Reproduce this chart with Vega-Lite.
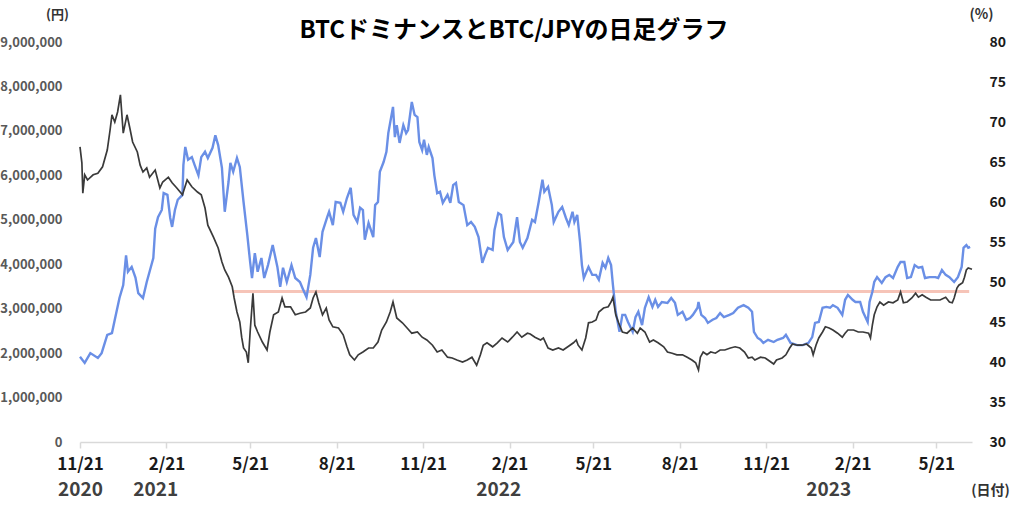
{
"$schema": "https://vega.github.io/schema/vega-lite/v6.json",
"width": 892, "height": 400,
"autosize": {"type": "none"},
"padding": {"left": 80, "top": 42, "right": 52, "bottom": 65},
"background": "white",
"config": {"view": {"stroke": null}, "font": "Noto Sans CJK JP", "axis": {"grid": false}},
"title": {"text": "BTCドミナンスとBTC/JPYの日足グラフ", "fontSize": 24, "fontWeight": "bold", "color": "#000000", "anchor": "middle", "dx": -12, "dy": 39, "offset": 3, "font": "Noto Sans CJK JP"},
"datasets": {
"ref": [{"start": "2021-05-03", "end": "2023-06-25", "level": 48.8}],
"jpy": [
{"date":"2020-11-21","price":1920000},{"date":"2020-11-26","price":1780000},{"date":"2020-12-02","price":2000000},{"date":"2020-12-10","price":1890000},{"date":"2020-12-14","price":2000000},{"date":"2020-12-20","price":2410000},{"date":"2020-12-25","price":2450000},{"date":"2020-12-28","price":2750000},{"date":"2021-01-02","price":3240000},{"date":"2021-01-06","price":3530000},{"date":"2021-01-09","price":4200000},{"date":"2021-01-11","price":3830000},{"date":"2021-01-15","price":3940000},{"date":"2021-01-19","price":3700000},{"date":"2021-01-22","price":3350000},{"date":"2021-01-27","price":3240000},{"date":"2021-01-31","price":3600000},{"date":"2021-02-03","price":3830000},{"date":"2021-02-07","price":4140000},{"date":"2021-02-09","price":4800000},{"date":"2021-02-12","price":5060000},{"date":"2021-02-16","price":5220000},{"date":"2021-02-18","price":5600000},{"date":"2021-02-22","price":5560000},{"date":"2021-02-25","price":5040000},{"date":"2021-02-27","price":4840000},{"date":"2021-03-02","price":5220000},{"date":"2021-03-05","price":5450000},{"date":"2021-03-10","price":5560000},{"date":"2021-03-11","price":6230000},{"date":"2021-03-13","price":6640000},{"date":"2021-03-16","price":6350000},{"date":"2021-03-20","price":6410000},{"date":"2021-03-23","price":6230000},{"date":"2021-03-27","price":6000000},{"date":"2021-03-30","price":6410000},{"date":"2021-04-03","price":6530000},{"date":"2021-04-06","price":6390000},{"date":"2021-04-11","price":6620000},{"date":"2021-04-14","price":6900000},{"date":"2021-04-17","price":6680000},{"date":"2021-04-21","price":6170000},{"date":"2021-04-24","price":5180000},{"date":"2021-04-28","price":5850000},{"date":"2021-04-30","price":6280000},{"date":"2021-05-03","price":6080000},{"date":"2021-05-07","price":6390000},{"date":"2021-05-10","price":6190000},{"date":"2021-05-14","price":5400000},{"date":"2021-05-18","price":4660000},{"date":"2021-05-21","price":4050000},{"date":"2021-05-23","price":3690000},{"date":"2021-05-26","price":4250000},{"date":"2021-05-29","price":3830000},{"date":"2021-06-02","price":4140000},{"date":"2021-06-05","price":3690000},{"date":"2021-06-09","price":3980000},{"date":"2021-06-14","price":4430000},{"date":"2021-06-19","price":3940000},{"date":"2021-06-22","price":3490000},{"date":"2021-06-25","price":3920000},{"date":"2021-06-29","price":3600000},{"date":"2021-07-04","price":3980000},{"date":"2021-07-08","price":3690000},{"date":"2021-07-13","price":3600000},{"date":"2021-07-16","price":3450000},{"date":"2021-07-20","price":3260000},{"date":"2021-07-24","price":3760000},{"date":"2021-07-27","price":4370000},{"date":"2021-07-30","price":4590000},{"date":"2021-08-03","price":4160000},{"date":"2021-08-06","price":4730000},{"date":"2021-08-11","price":5060000},{"date":"2021-08-13","price":5180000},{"date":"2021-08-17","price":4880000},{"date":"2021-08-20","price":5400000},{"date":"2021-08-25","price":5380000},{"date":"2021-08-28","price":5180000},{"date":"2021-09-01","price":5490000},{"date":"2021-09-05","price":5720000},{"date":"2021-09-08","price":5110000},{"date":"2021-09-12","price":4950000},{"date":"2021-09-15","price":5270000},{"date":"2021-09-18","price":5220000},{"date":"2021-09-20","price":4550000},{"date":"2021-09-24","price":4930000},{"date":"2021-09-29","price":4610000},{"date":"2021-10-01","price":5330000},{"date":"2021-10-04","price":5400000},{"date":"2021-10-06","price":6080000},{"date":"2021-10-10","price":6300000},{"date":"2021-10-13","price":6530000},{"date":"2021-10-15","price":6950000},{"date":"2021-10-20","price":7540000},{"date":"2021-10-22","price":6860000},{"date":"2021-10-24","price":7130000},{"date":"2021-10-27","price":6730000},{"date":"2021-10-31","price":7130000},{"date":"2021-11-03","price":6950000},{"date":"2021-11-05","price":7020000},{"date":"2021-11-09","price":7650000},{"date":"2021-11-12","price":7360000},{"date":"2021-11-15","price":7310000},{"date":"2021-11-17","price":6750000},{"date":"2021-11-20","price":6570000},{"date":"2021-11-22","price":6800000},{"date":"2021-11-25","price":6460000},{"date":"2021-11-27","price":6640000},{"date":"2021-12-01","price":6390000},{"date":"2021-12-03","price":6000000},{"date":"2021-12-06","price":5600000},{"date":"2021-12-09","price":5630000},{"date":"2021-12-12","price":5380000},{"date":"2021-12-17","price":5560000},{"date":"2021-12-20","price":5380000},{"date":"2021-12-23","price":5780000},{"date":"2021-12-26","price":5830000},{"date":"2021-12-29","price":5400000},{"date":"2022-01-03","price":5330000},{"date":"2022-01-07","price":4880000},{"date":"2022-01-11","price":4950000},{"date":"2022-01-15","price":4840000},{"date":"2022-01-19","price":4610000},{"date":"2022-01-23","price":4030000},{"date":"2022-01-26","price":4210000},{"date":"2022-01-29","price":4370000},{"date":"2022-02-03","price":4320000},{"date":"2022-02-05","price":4770000},{"date":"2022-02-09","price":5150000},{"date":"2022-02-12","price":5110000},{"date":"2022-02-15","price":4610000},{"date":"2022-02-19","price":4320000},{"date":"2022-02-25","price":4500000},{"date":"2022-03-01","price":5060000},{"date":"2022-03-04","price":4500000},{"date":"2022-03-07","price":4370000},{"date":"2022-03-12","price":4590000},{"date":"2022-03-17","price":5000000},{"date":"2022-03-20","price":4950000},{"date":"2022-03-24","price":5400000},{"date":"2022-03-28","price":5900000},{"date":"2022-03-30","price":5630000},{"date":"2022-04-03","price":5740000},{"date":"2022-04-07","price":5330000},{"date":"2022-04-09","price":4950000},{"date":"2022-04-14","price":5180000},{"date":"2022-04-18","price":5290000},{"date":"2022-04-22","price":5040000},{"date":"2022-04-25","price":4880000},{"date":"2022-04-29","price":5180000},{"date":"2022-05-01","price":4950000},{"date":"2022-05-04","price":5110000},{"date":"2022-05-07","price":4500000},{"date":"2022-05-09","price":3980000},{"date":"2022-05-11","price":3690000},{"date":"2022-05-16","price":3940000},{"date":"2022-05-20","price":3760000},{"date":"2022-05-24","price":3760000},{"date":"2022-05-27","price":3650000},{"date":"2022-05-31","price":4030000},{"date":"2022-06-03","price":3920000},{"date":"2022-06-06","price":4140000},{"date":"2022-06-09","price":3980000},{"date":"2022-06-11","price":3530000},{"date":"2022-06-14","price":2930000},{"date":"2022-06-18","price":2480000},{"date":"2022-06-21","price":2860000},{"date":"2022-06-24","price":2860000},{"date":"2022-06-27","price":2700000},{"date":"2022-07-02","price":2480000},{"date":"2022-07-05","price":2810000},{"date":"2022-07-08","price":2930000},{"date":"2022-07-12","price":2630000},{"date":"2022-07-15","price":3020000},{"date":"2022-07-19","price":3260000},{"date":"2022-07-23","price":3040000},{"date":"2022-07-26","price":3200000},{"date":"2022-07-29","price":3040000},{"date":"2022-08-02","price":3150000},{"date":"2022-08-08","price":3130000},{"date":"2022-08-12","price":3240000},{"date":"2022-08-16","price":3130000},{"date":"2022-08-19","price":2860000},{"date":"2022-08-24","price":2930000},{"date":"2022-08-28","price":2750000},{"date":"2022-09-01","price":2790000},{"date":"2022-09-04","price":2860000},{"date":"2022-09-09","price":3020000},{"date":"2022-09-10","price":3150000},{"date":"2022-09-13","price":2860000},{"date":"2022-09-17","price":2790000},{"date":"2022-09-20","price":2680000},{"date":"2022-09-25","price":2750000},{"date":"2022-09-29","price":2790000},{"date":"2022-10-03","price":2900000},{"date":"2022-10-07","price":2810000},{"date":"2022-10-13","price":2860000},{"date":"2022-10-17","price":2900000},{"date":"2022-10-22","price":3020000},{"date":"2022-10-28","price":3080000},{"date":"2022-11-02","price":3020000},{"date":"2022-11-06","price":2930000},{"date":"2022-11-08","price":2480000},{"date":"2022-11-12","price":2340000},{"date":"2022-11-15","price":2300000},{"date":"2022-11-18","price":2230000},{"date":"2022-11-23","price":2300000},{"date":"2022-11-29","price":2250000},{"date":"2022-12-03","price":2300000},{"date":"2022-12-09","price":2340000},{"date":"2022-12-12","price":2410000},{"date":"2022-12-17","price":2230000},{"date":"2022-12-24","price":2180000},{"date":"2022-12-30","price":2180000},{"date":"2023-01-05","price":2230000},{"date":"2023-01-09","price":2360000},{"date":"2023-01-12","price":2680000},{"date":"2023-01-16","price":2700000},{"date":"2023-01-20","price":3020000},{"date":"2023-01-24","price":3040000},{"date":"2023-01-28","price":3020000},{"date":"2023-01-31","price":3080000},{"date":"2023-02-05","price":3020000},{"date":"2023-02-10","price":2860000},{"date":"2023-02-13","price":3200000},{"date":"2023-02-16","price":3310000},{"date":"2023-02-21","price":3200000},{"date":"2023-02-24","price":3150000},{"date":"2023-03-01","price":3150000},{"date":"2023-03-04","price":2930000},{"date":"2023-03-09","price":2700000},{"date":"2023-03-11","price":3150000},{"date":"2023-03-14","price":3380000},{"date":"2023-03-16","price":3600000},{"date":"2023-03-19","price":3710000},{"date":"2023-03-24","price":3580000},{"date":"2023-03-28","price":3710000},{"date":"2023-04-01","price":3760000},{"date":"2023-04-05","price":3690000},{"date":"2023-04-10","price":3940000},{"date":"2023-04-13","price":4050000},{"date":"2023-04-17","price":4050000},{"date":"2023-04-20","price":3690000},{"date":"2023-04-24","price":3710000},{"date":"2023-04-28","price":3980000},{"date":"2023-05-02","price":3920000},{"date":"2023-05-06","price":3940000},{"date":"2023-05-09","price":3690000},{"date":"2023-05-14","price":3710000},{"date":"2023-05-20","price":3710000},{"date":"2023-05-23","price":3690000},{"date":"2023-05-27","price":3870000},{"date":"2023-05-31","price":3760000},{"date":"2023-06-04","price":3710000},{"date":"2023-06-09","price":3600000},{"date":"2023-06-13","price":3710000},{"date":"2023-06-17","price":3940000},{"date":"2023-06-19","price":4370000},{"date":"2023-06-22","price":4430000},{"date":"2023-06-24","price":4370000},{"date":"2023-06-26","price":4390000}
],
"dom": [
{"date":"2020-11-21","dominance":66.9},{"date":"2020-11-23","dominance":64.9},{"date":"2020-11-24","dominance":61.1},{"date":"2020-11-26","dominance":63.4},{"date":"2020-11-29","dominance":62.75},{"date":"2020-12-05","dominance":63.4},{"date":"2020-12-10","dominance":63.6},{"date":"2020-12-15","dominance":64.4},{"date":"2020-12-20","dominance":66.5},{"date":"2020-12-23","dominance":69.0},{"date":"2020-12-25","dominance":70.9},{"date":"2020-12-28","dominance":70.0},{"date":"2020-12-31","dominance":71.25},{"date":"2021-01-03","dominance":73.4},{"date":"2021-01-06","dominance":68.6},{"date":"2021-01-10","dominance":70.9},{"date":"2021-01-13","dominance":69.25},{"date":"2021-01-16","dominance":67.5},{"date":"2021-01-21","dominance":66.25},{"date":"2021-01-24","dominance":64.6},{"date":"2021-01-27","dominance":63.75},{"date":"2021-01-31","dominance":64.25},{"date":"2021-02-03","dominance":63.1},{"date":"2021-02-09","dominance":64.0},{"date":"2021-02-14","dominance":61.75},{"date":"2021-02-17","dominance":62.5},{"date":"2021-02-23","dominance":63.1},{"date":"2021-02-27","dominance":62.4},{"date":"2021-03-04","dominance":61.75},{"date":"2021-03-10","dominance":60.9},{"date":"2021-03-15","dominance":62.75},{"date":"2021-03-20","dominance":61.9},{"date":"2021-03-26","dominance":61.25},{"date":"2021-03-30","dominance":60.9},{"date":"2021-04-03","dominance":59.25},{"date":"2021-04-06","dominance":57.1},{"date":"2021-04-12","dominance":55.6},{"date":"2021-04-17","dominance":54.25},{"date":"2021-04-21","dominance":52.5},{"date":"2021-04-24","dominance":51.5},{"date":"2021-04-28","dominance":50.6},{"date":"2021-05-02","dominance":49.4},{"date":"2021-05-04","dominance":48.0},{"date":"2021-05-07","dominance":46.25},{"date":"2021-05-10","dominance":45.0},{"date":"2021-05-12","dominance":43.1},{"date":"2021-05-14","dominance":41.75},{"date":"2021-05-17","dominance":41.25},{"date":"2021-05-19","dominance":39.9},{"date":"2021-05-21","dominance":43.75},{"date":"2021-05-24","dominance":48.6},{"date":"2021-05-26","dominance":44.6},{"date":"2021-05-29","dominance":43.75},{"date":"2021-06-03","dominance":42.5},{"date":"2021-06-08","dominance":41.5},{"date":"2021-06-11","dominance":43.75},{"date":"2021-06-15","dominance":45.9},{"date":"2021-06-20","dominance":46.25},{"date":"2021-06-24","dominance":48.0},{"date":"2021-06-27","dominance":46.9},{"date":"2021-07-03","dominance":46.9},{"date":"2021-07-08","dominance":45.9},{"date":"2021-07-13","dominance":46.1},{"date":"2021-07-19","dominance":46.25},{"date":"2021-07-24","dominance":46.75},{"date":"2021-07-27","dominance":48.0},{"date":"2021-07-30","dominance":48.75},{"date":"2021-08-02","dominance":47.4},{"date":"2021-08-06","dominance":45.9},{"date":"2021-08-10","dominance":46.75},{"date":"2021-08-13","dominance":45.25},{"date":"2021-08-17","dominance":44.4},{"date":"2021-08-23","dominance":44.25},{"date":"2021-08-28","dominance":43.4},{"date":"2021-09-01","dominance":41.9},{"date":"2021-09-04","dominance":40.9},{"date":"2021-09-09","dominance":40.25},{"date":"2021-09-13","dominance":40.9},{"date":"2021-09-18","dominance":41.25},{"date":"2021-09-24","dominance":41.75},{"date":"2021-09-29","dominance":41.75},{"date":"2021-10-04","dominance":42.5},{"date":"2021-10-08","dominance":44.0},{"date":"2021-10-13","dominance":45.0},{"date":"2021-10-17","dominance":46.25},{"date":"2021-10-20","dominance":47.5},{"date":"2021-10-24","dominance":45.5},{"date":"2021-10-30","dominance":44.9},{"date":"2021-11-04","dominance":44.25},{"date":"2021-11-09","dominance":43.6},{"date":"2021-11-15","dominance":43.75},{"date":"2021-11-20","dominance":43.1},{"date":"2021-11-25","dominance":42.75},{"date":"2021-12-01","dominance":42.1},{"date":"2021-12-06","dominance":41.25},{"date":"2021-12-11","dominance":41.5},{"date":"2021-12-17","dominance":40.6},{"date":"2021-12-22","dominance":40.5},{"date":"2021-12-27","dominance":40.25},{"date":"2022-01-02","dominance":40.0},{"date":"2022-01-07","dominance":40.25},{"date":"2022-01-12","dominance":40.6},{"date":"2022-01-17","dominance":39.6},{"date":"2022-01-21","dominance":40.9},{"date":"2022-01-24","dominance":42.1},{"date":"2022-01-28","dominance":42.4},{"date":"2022-02-03","dominance":41.9},{"date":"2022-02-08","dominance":42.4},{"date":"2022-02-13","dominance":43.0},{"date":"2022-02-19","dominance":42.5},{"date":"2022-02-24","dominance":43.1},{"date":"2022-03-01","dominance":43.75},{"date":"2022-03-06","dominance":43.1},{"date":"2022-03-12","dominance":43.6},{"date":"2022-03-15","dominance":43.5},{"date":"2022-03-20","dominance":43.1},{"date":"2022-03-26","dominance":42.75},{"date":"2022-03-29","dominance":43.0},{"date":"2022-04-03","dominance":41.75},{"date":"2022-04-08","dominance":41.5},{"date":"2022-04-14","dominance":41.75},{"date":"2022-04-19","dominance":41.5},{"date":"2022-04-24","dominance":41.9},{"date":"2022-04-30","dominance":42.4},{"date":"2022-05-03","dominance":42.75},{"date":"2022-05-05","dominance":42.1},{"date":"2022-05-09","dominance":41.5},{"date":"2022-05-13","dominance":43.0},{"date":"2022-05-16","dominance":44.9},{"date":"2022-05-20","dominance":45.0},{"date":"2022-05-24","dominance":45.25},{"date":"2022-05-27","dominance":46.25},{"date":"2022-06-01","dominance":46.75},{"date":"2022-06-06","dominance":46.9},{"date":"2022-06-09","dominance":47.5},{"date":"2022-06-11","dominance":48.1},{"date":"2022-06-14","dominance":45.9},{"date":"2022-06-17","dominance":44.9},{"date":"2022-06-21","dominance":43.75},{"date":"2022-06-26","dominance":43.6},{"date":"2022-07-02","dominance":44.25},{"date":"2022-07-07","dominance":43.6},{"date":"2022-07-10","dominance":44.25},{"date":"2022-07-15","dominance":43.75},{"date":"2022-07-20","dominance":42.5},{"date":"2022-07-24","dominance":42.75},{"date":"2022-07-29","dominance":42.4},{"date":"2022-08-04","dominance":41.9},{"date":"2022-08-08","dominance":41.25},{"date":"2022-08-13","dominance":41.1},{"date":"2022-08-18","dominance":40.9},{"date":"2022-08-24","dominance":40.9},{"date":"2022-08-29","dominance":40.6},{"date":"2022-09-03","dominance":40.25},{"date":"2022-09-07","dominance":39.9},{"date":"2022-09-10","dominance":39.0},{"date":"2022-09-12","dominance":40.6},{"date":"2022-09-15","dominance":41.25},{"date":"2022-09-19","dominance":40.9},{"date":"2022-09-23","dominance":41.25},{"date":"2022-09-28","dominance":41.1},{"date":"2022-10-03","dominance":41.5},{"date":"2022-10-08","dominance":41.5},{"date":"2022-10-14","dominance":41.75},{"date":"2022-10-19","dominance":41.9},{"date":"2022-10-24","dominance":41.75},{"date":"2022-10-29","dominance":41.25},{"date":"2022-11-02","dominance":40.5},{"date":"2022-11-06","dominance":40.6},{"date":"2022-11-09","dominance":40.25},{"date":"2022-11-15","dominance":40.6},{"date":"2022-11-20","dominance":40.5},{"date":"2022-11-23","dominance":40.25},{"date":"2022-11-29","dominance":39.75},{"date":"2022-12-02","dominance":40.25},{"date":"2022-12-08","dominance":40.5},{"date":"2022-12-12","dominance":40.9},{"date":"2022-12-16","dominance":41.75},{"date":"2022-12-19","dominance":42.25},{"date":"2022-12-24","dominance":42.1},{"date":"2022-12-29","dominance":42.1},{"date":"2023-01-03","dominance":42.25},{"date":"2023-01-08","dominance":41.75},{"date":"2023-01-10","dominance":40.9},{"date":"2023-01-13","dominance":42.1},{"date":"2023-01-16","dominance":43.0},{"date":"2023-01-20","dominance":43.75},{"date":"2023-01-23","dominance":44.4},{"date":"2023-01-27","dominance":44.25},{"date":"2023-01-31","dominance":44.0},{"date":"2023-02-05","dominance":43.6},{"date":"2023-02-10","dominance":43.1},{"date":"2023-02-13","dominance":43.6},{"date":"2023-02-16","dominance":44.0},{"date":"2023-02-22","dominance":44.0},{"date":"2023-02-27","dominance":43.75},{"date":"2023-03-04","dominance":43.75},{"date":"2023-03-10","dominance":43.6},{"date":"2023-03-12","dominance":43.0},{"date":"2023-03-14","dominance":44.6},{"date":"2023-03-16","dominance":45.9},{"date":"2023-03-19","dominance":46.9},{"date":"2023-03-22","dominance":47.5},{"date":"2023-03-26","dominance":47.1},{"date":"2023-03-31","dominance":47.5},{"date":"2023-04-05","dominance":47.4},{"date":"2023-04-10","dominance":47.75},{"date":"2023-04-13","dominance":48.75},{"date":"2023-04-16","dominance":47.4},{"date":"2023-04-20","dominance":47.5},{"date":"2023-04-25","dominance":48.0},{"date":"2023-04-29","dominance":48.6},{"date":"2023-05-02","dominance":48.1},{"date":"2023-05-06","dominance":48.4},{"date":"2023-05-10","dominance":48.1},{"date":"2023-05-15","dominance":47.75},{"date":"2023-05-20","dominance":47.75},{"date":"2023-05-25","dominance":47.75},{"date":"2023-05-31","dominance":48.1},{"date":"2023-06-04","dominance":47.5},{"date":"2023-06-07","dominance":47.4},{"date":"2023-06-09","dominance":48.0},{"date":"2023-06-12","dominance":49.25},{"date":"2023-06-14","dominance":49.6},{"date":"2023-06-18","dominance":49.9},{"date":"2023-06-20","dominance":50.6},{"date":"2023-06-22","dominance":51.5},{"date":"2023-06-24","dominance":51.75},{"date":"2023-06-28","dominance":51.6}
]
},
"layer": [
{
"data": {"name": "ref"},
"mark": {"type": "rule", "color": "#f6c4b8", "strokeWidth": 3},
"encoding": {
"x": {"field": "start", "type": "temporal", "axis": null},
"x2": {"field": "end"},
"y": {"field": "level", "type": "quantitative", "scale": {"domain": [30, 80]}, "axis": null}
}
},
{
"data": {"name": "jpy"},
"mark": {"type": "line", "color": "#6a8fe6", "strokeWidth": 2.4},
"encoding": {
"x": {"field": "date", "type": "temporal",
"scale": {"type": "utc", "domain": [{"year": 2020, "month": 11, "date": 21, "utc": true}, {"year": 2023, "month": 6, "date": 28, "utc": true}]},
"axis": {"orient": "bottom", "title": null,
"values": [{"year": 2020, "month": 11, "date": 21, "utc": true}, {"year": 2021, "month": 2, "date": 21, "utc": true}, {"year": 2021, "month": 5, "date": 21, "utc": true}, {"year": 2021, "month": 8, "date": 21, "utc": true}, {"year": 2021, "month": 11, "date": 21, "utc": true}, {"year": 2022, "month": 2, "date": 21, "utc": true}, {"year": 2022, "month": 5, "date": 21, "utc": true}, {"year": 2022, "month": 8, "date": 21, "utc": true}, {"year": 2022, "month": 11, "date": 21, "utc": true}, {"year": 2023, "month": 2, "date": 21, "utc": true}, {"year": 2023, "month": 5, "date": 21, "utc": true}],
"labelExpr": "utcFormat(datum.value, '%-m/%d')",
"domain": true, "domainColor": "#d9d9d9", "domainWidth": 1.5,
"ticks": true, "tickColor": "#d9d9d9", "tickSize": 6, "tickWidth": 1.5,
"labelPadding": 8, "labelFontSize": 17, "labelFontWeight": "bold", "labelColor": "#1a1a1a",
"labelFlush": false, "labelOverlap": false}
},
"y": {"field": "price", "type": "quantitative", "scale": {"domain": [0, 9000000]},
"axis": {"orient": "left", "values": [0, 1000000, 2000000, 3000000, 4000000, 5000000, 6000000, 7000000, 8000000, 9000000], "format": ",d",
"domain": false, "ticks": false, "tickSize": 0, "labelPadding": 18,
"labelFontSize": 13, "labelFontWeight": "bold", "labelColor": "#595959",
"title": "(円)", "titleAngle": 0, "titleX": -23, "titleY": -28, "titleAlign": "center", "titleBaseline": "middle",
"titleFontSize": 13, "titleFontWeight": "bold", "titleColor": "#333333"}}
}
},
{
"data": {"name": "dom"},
"mark": {"type": "line", "color": "#3a3a3a", "strokeWidth": 1.7},
"encoding": {
"x": {"field": "date", "type": "temporal",
"axis": {"orient": "bottom",
"values": [{"year": 2020, "month": 11, "date": 21, "utc": true}, {"year": 2021, "month": 2, "date": 9, "utc": true}, {"year": 2022, "month": 2, "date": 9, "utc": true}, {"year": 2023, "month": 1, "date": 26, "utc": true}],
"labelExpr": "utcFormat(datum.value, '%Y')",
"domain": false, "ticks": false, "tickSize": 0, "labelPadding": 38,
"labelFontSize": 19, "labelFontWeight": "bold", "labelColor": "#404040",
"labelFlush": false, "labelOverlap": false,
"title": "(日付)", "titleX": 910, "titleY": 48, "titleAngle": 0, "titleAlign": "center", "titleBaseline": "middle",
"titleFontSize": 14, "titleFontWeight": "bold", "titleColor": "#333333"}
},
"y": {"field": "dominance", "type": "quantitative", "scale": {"domain": [30, 80]},
"axis": {"orient": "right", "values": [30, 35, 40, 45, 50, 55, 60, 65, 70, 75, 80],
"domain": false, "ticks": false, "tickSize": 0, "labelPadding": 17,
"labelFontSize": 14, "labelFontWeight": "bold", "labelColor": "#1a1a1a",
"title": "(%)", "titleAngle": 0, "titleX": 9, "titleY": -28, "titleAlign": "center", "titleBaseline": "middle",
"titleFontSize": 14, "titleFontWeight": "bold", "titleColor": "#333333"}}
}
}
],
"resolve": {"scale": {"y": "independent"}, "axis": {"x": "independent", "y": "independent"}}
}
